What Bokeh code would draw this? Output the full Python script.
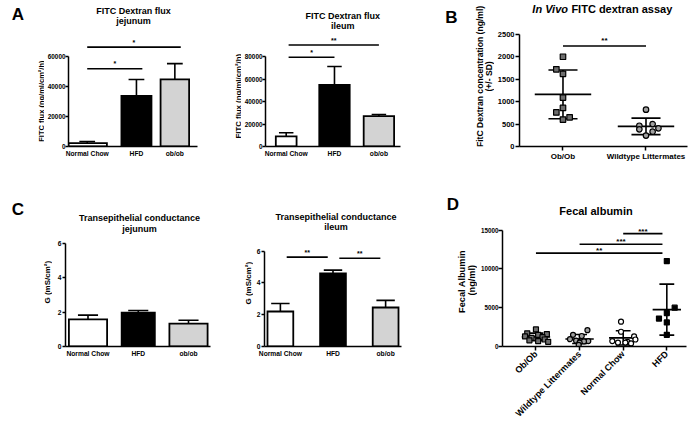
import math
from bokeh.plotting import figure
from bokeh.models import Range1d, FixedTicker
from bokeh.layouts import row, column
from bokeh.embed import file_html
from bokeh.resources import INLINE
from bokeh.core.properties import value

FONT = "Liberation Sans"

# ---------------- data ----------------
bar_groups = ["Normal Chow", "HFD", "ob/ob"]
bar_colors = ["white", "black", "#d3d3d3"]

flux_jej_mean = [2200, 33800, 44800]
flux_jej_sem = [1100, 11000, 10600]
flux_ile_mean = [9000, 54800, 27000]
flux_ile_sem = [3300, 16500, 1500]
cond_jej_mean = [1.58, 1.98, 1.33]
cond_jej_sem = [0.25, 0.12, 0.20]
cond_ile_mean = [2.2, 4.6, 2.45]
cond_ile_sem = [0.5, 0.2, 0.45]

flux_jej_ticks = [0, 20000, 40000, 60000]
flux_ile_ticks = [0, 20000, 40000, 60000, 80000]
cond_ticks = [0, 2, 4, 6]

# significance brackets: (group i, group j, height, label)
flux_jej_sig = [(0, 1, 52000, "*"), (0, 2, 66400, "*")]
flux_ile_sig = [(0, 1, 79600, "*"), (0, 2, 90500, "**")]
cond_ile_sig = [(0, 1, 5.62, "**"), (1, 2, 5.55, "**")]

vivo_groups = ["Ob/Ob", "Wildtype Littermates"]
vivo_obob = [2000, 1720, 1620, 1090, 860, 760, 600, 650]
vivo_wt = [820, 500, 463, 383, 405, 331, 243]
vivo_ticks = [0, 500, 1000, 1500, 2000, 2500]
vivo_sig = [(0, 1, 2240, "**")]

fecal_groups = ["Ob/Ob", "Wildtype Littermates", "Normal Chow", "HFD"]
fecal_obob = [2200, 1700, 1600, 1500, 1300, 1200, 1100, 900, 800, 700, 600]
fecal_wt = [2100, 1500, 1350, 950, 750, 700, 650, 500, 200]
fecal_nc = [3200, 1900, 1300, 900, 700, 600, 500, 500, 400]
fecal_hfd = [11000, 5000, 4300, 3600, 3100, 1500]
fecal_ticks = [0, 5000, 10000, 15000]
fecal_sig = [(2, 3, 14540, "***"), (1, 3, 13170, "***"), (0, 3, 12030, "**")]

# ---------------- layout only (positions / widths / offsets) ----------------
a1_pos, a1_w = [0, 1, 1.78], [0.8, 0.61, 0.58]
a2_pos, a2_w = [0, 1, 1.92], [0.43, 0.63, 0.63]
c1_pos, c1_w = [0, 1, 2], [0.76, 0.66, 0.76]
c2_pos, c2_w = [0, 1, 2], [0.49, 0.49, 0.49]
vivo_obob_jit = [0, -0.08, 0, 0, 0, -0.08, 0, 0.08]
vivo_wt_jit = [0, 0.08, -0.08, -0.08, 0.15, 0.08, 0]
fecal_obob_jit = [0.0, -0.2, 0.25, 0.05, -0.25, 0.15, -0.1, 0.2, -0.15, 0.05, 0.28]
fecal_wt_jit = [0.18, -0.15, 0.05, -0.22, -0.08, 0.2, 0.1, 0.0, -0.02]
fecal_nc_jit = [-0.05, -0.05, 0.25, 0.28, -0.25, 0.1, -0.12, 0.05, 0.18]
fecal_hfd_jit = [0, 0.18, 0, -0.18, 0, 0]

R1_TOP, R1_BOT, R1_FB = 0, 163, 148
R2_TOP, R2_BOT, R2_FB = 163, 425, 348


def tx(p, x, y, txt, fs, style="bold", align="center", angle=0.0):
    p.text(x=[x], y=[y], text=[txt], angle=angle, text_align=align,
           text_baseline="middle", text_font=value(FONT),
           text_font_size=f"{fs}px", text_font_style=style, text_color="black")


class Strip:
    """Narrow text-only figure holding a panel letter and a y-axis title."""
    def __init__(self, x0, x1, top, bot, fb):
        p = figure(width=x1 - x0, height=bot - top,
                   x_range=Range1d(x0, x1), y_range=Range1d(-fb, -top),
                   output_backend="svg", toolbar_location=None, title=None,
                   x_axis_location=None, y_axis_location=None,
                   min_border_left=0, min_border_right=0,
                   min_border_top=0, min_border_bottom=bot - fb)
        p.xgrid.visible = False
        p.ygrid.visible = False
        p.outline_line_color = None
        self.p = p

    def text(self, px, py, txt, fs, style="bold", angle=0.0):
        tx(self.p, px, -py, txt, fs, style=style, angle=angle)


class Panel:
    def __init__(self, fig_box, frame_box, xcal, ycal):
        FL, FT, FR, FB = fig_box
        L, T, R, B = frame_box
        (xp0, xv0), (xp1, xv1) = xcal
        (yp0, yv0), (yp1, yv1) = ycal
        self.sx = (xv1 - xv0) / (xp1 - xp0)
        self.sy = (yv1 - yv0) / (yp0 - yp1)
        self.xp0, self.xv0, self.yp0, self.yv0 = xp0, xv0, yp0, yv0
        p = figure(width=FR - FL, height=FB - FT,
                   x_range=Range1d(self.dx(L), self.dx(R)),
                   y_range=Range1d(self.dy(B), self.dy(T)),
                   output_backend="svg", toolbar_location=None, title=None,
                   min_border_left=L - FL, min_border_right=FR - R,
                   min_border_top=T - FT, min_border_bottom=FB - B)
        p.xgrid.visible = False
        p.ygrid.visible = False
        p.outline_line_color = None
        for ax in (p.xaxis[0], p.yaxis[0]):
            ax.axis_line_width = 1.5
            ax.axis_line_color = "black"
            ax.major_tick_line_width = 1.5
            ax.major_tick_line_color = "black"
            ax.major_tick_in = 0
            ax.major_tick_out = 3
            ax.minor_tick_line_color = None
            ax.major_label_text_font = FONT
            ax.major_label_text_font_style = "bold"
            ax.major_label_text_color = "black"
        self.p = p
        self.pos = None

    def dx(self, px):
        return self.xv0 + (px - self.xp0) * self.sx

    def dy(self, py):
        return self.yv0 + (self.yp0 - py) * self.sy

    def text(self, px, py, txt, fs, style="bold", align="center"):
        tx(self.p, self.dx(px), self.dy(py), txt, fs, style=style, align=align)

    def axes(self, yticks, cats, ytick_fs, xtick_fs, pos=None, ytick_out=3, ytick_standoff=0,
             xtick_standoff=3, xtick_out=0):
        self.pos = pos if pos is not None else list(range(len(cats)))
        ya, xa = self.p.yaxis[0], self.p.xaxis[0]
        ya.ticker = FixedTicker(ticks=yticks)
        ya.bounds = (yticks[0], yticks[-1])
        ya.major_label_text_font_size = f"{ytick_fs}px"
        ya.major_label_standoff = ytick_standoff
        ya.major_tick_out = ytick_out
        xa.ticker = FixedTicker(ticks=self.pos)
        xa.major_label_overrides = {x: c for x, c in zip(self.pos, cats)}
        xa.major_label_text_font_size = f"{xtick_fs}px"
        xa.major_label_standoff = xtick_standoff
        xa.major_tick_out = xtick_out

    def sigs(self, sig, fs, off_px, inset_l=0.0, inset_r=0.0):
        p = self.p
        for i, j, y, lab in sig:
            x0, x1 = self.pos[i] + inset_l, self.pos[j] - inset_r
            p.segment(x0=[x0], y0=[y], x1=[x1], y1=[y], line_color="black", line_width=1.6)
            p.text(x=[(x0 + x1) / 2], y=[y + (off_px - 0.575 * fs) * self.sy], text=[lab],
                   text_align="center", text_baseline="alphabetic",
                   text_font=value(FONT), text_font_size=f"{fs}px",
                   text_font_style="bold", text_color="black")

    def bars(self, means, sems, widths, cap_w):
        p = self.p
        xs = self.pos
        tops = [m + s for m, s in zip(means, sems)]
        p.vbar(x=xs, top=means, bottom=0, width=widths, fill_color=bar_colors,
               line_color="black", line_width=1.8, line_join="miter")
        p.segment(x0=xs, y0=means, x1=xs, y1=tops, line_color="black", line_width=1.6)
        p.segment(x0=[x - cap_w / 2 for x in xs], y0=tops, x1=[x + cap_w / 2 for x in xs],
                  y1=tops, line_color="black", line_width=1.6)

    def dots(self, gi, vals, jit, marker, fill, size, mean_w, cap_w):
        p = self.p
        n = len(vals)
        m = sum(vals) / n
        sd = math.sqrt(sum((v - m) ** 2 for v in vals) / (n - 1))
        p.segment(x0=[gi - mean_w / 2], y0=[m], x1=[gi + mean_w / 2], y1=[m], line_color="black", line_width=1.6)
        p.segment(x0=[gi], y0=[m - sd], x1=[gi], y1=[m + sd], line_color="black", line_width=1.6)
        p.segment(x0=[gi - cap_w / 2] * 2, y0=[m - sd, m + sd], x1=[gi + cap_w / 2] * 2,
                  y1=[m - sd, m + sd], line_color="black", line_width=1.6)
        p.scatter(x=[gi + j for j in jit], y=vals, marker=marker, size=size,
                  fill_color=fill, line_color="black", line_width=1.2)


# ================= Row 1 =================
sA = Strip(0, 44, R1_TOP, R1_BOT, R1_FB)
sA.text(17.5, 14, "A", 17)
sA.text(40.5, 102, "FITC flux (ng/ml/cm\u00b2/h)", 7.5, angle=math.pi / 2)

a1 = Panel((44, R1_TOP, 200, R1_BOT), (66, R1_TOP, 197, R1_FB), ((85, 0), (135, 1)), ((R1_FB, 0), (57, 60000)))
a1.axes(flux_jej_ticks, bar_groups, 6.4, 6.7, pos=a1_pos)
a1.bars(flux_jej_mean, flux_jej_sem, a1_w, 0.32)
a1.sigs(flux_jej_sig, 7, 9, 0.0, -0.12)
a1.text(132, 11, "FITC Dextran flux", 9)
a1.text(132, 20.5, "jejunum", 9)

sA2 = Strip(200, 241, R1_TOP, R1_BOT, R1_FB)
sA2.text(237.5, 97, "FITC flux (ng/ml/cm\u00b2/h)", 7.8, angle=math.pi / 2)

a2 = Panel((241, R1_TOP, 402, R1_BOT), (263, R1_TOP, 400, R1_FB), ((284, 0), (333, 1)), ((R1_FB, 0), (57, 80000)))
a2.axes(flux_ile_ticks, bar_groups, 6.4, 6.7, pos=a2_pos)
a2.bars(flux_ile_mean, flux_ile_sem, a2_w, 0.3)
a2.sigs(flux_ile_sig, 7, 9, 0.05, 0.0)
a2.text(341.5, 16, "FITC Dextran flux", 9)
a2.text(341.5, 25.5, "ileum", 9)

sB = Strip(402, 494, R1_TOP, R1_BOT, R1_FB)
sB.text(451, 17.5, "B", 17)
sB.text(479, 77, "FitC Dextran concentration (ng/ml)", 8.6, angle=math.pi / 2)
sB.text(488.5, 77, "(+/- SD)", 8.6, angle=math.pi / 2)

b = Panel((494, R1_TOP, 700, R1_BOT), (517, R1_TOP, 687, R1_FB), ((561, 0), (645, 1)), ((R1_FB, 0), (34.3, 2500)))
b.axes(vivo_ticks, vivo_groups, 7.5, 8, ytick_out=4, ytick_standoff=1, xtick_standoff=1, xtick_out=4)
b.dots(0, vivo_obob, vivo_obob_jit, "square", "#6e6e6e", 5.5, 0.68, 0.35)
b.dots(1, vivo_wt, vivo_wt_jit, "circle", "#a0a0a0", 5.5, 0.68, 0.35)
b.sigs(vivo_sig, 8, 10)
b.text(530, 9, "In Vivo", 11, style="bold italic", align="left")
b.text(569.5, 9, "FITC dextran assay", 11, align="left")

# ================= Row 2 =================
sC = Strip(0, 52, R2_TOP, R2_BOT, R2_FB)
sC.text(17.5, 209, "C", 17)
sC.text(47, 283, "G (mS/cm\u00b2)", 8, angle=math.pi / 2)

c1 = Panel((52, R2_TOP, 213, R2_BOT), (65, R2_TOP, 210, R2_FB), ((87.5, 0), (188, 2)), ((R2_FB, 0), (244, 6)))
c1.axes(cond_ticks, bar_groups, 6.7, 6.7, pos=c1_pos, ytick_standoff=1)
c1.bars(cond_jej_mean, cond_jej_sem, c1_w, 0.4)
c1.text(139, 218, "Transepithelial conductance", 9)
c1.text(139, 229.5, "jejunum", 9)

sC2 = Strip(213, 253, R2_TOP, R2_BOT, R2_FB)
sC2.text(248, 284, "G (mS/cm\u00b2)", 8, angle=math.pi / 2)

c2 = Panel((253, R2_TOP, 418, R2_BOT), (263, R2_TOP, 401, R2_FB), ((279, 0), (385, 2)), ((R2_FB, 0), (251.5, 6)))
c2.axes(cond_ticks, bar_groups, 6.7, 6.7, pos=c2_pos, ytick_standoff=1)
c2.bars(cond_ile_mean, cond_ile_sem, c2_w, 0.35)
c2.sigs(cond_ile_sig, 7, 9, 0.12, 0.1)
c2.text(335, 216.7, "Transepithelial conductance", 9)
c2.text(335, 227.5, "ileum", 9)

sD = Strip(418, 477, R2_TOP, R2_BOT, R2_FB)
sD.text(452.5, 204, "D", 17)
sD.text(461, 281, "Fecal  Albumin", 9.2, angle=math.pi / 2)
sD.text(471.5, 281, "(ng/ml)", 9.2, angle=math.pi / 2)

d = Panel((477, R2_TOP, 700, R2_BOT), (499, R2_TOP, 686, R2_FB), ((533, 0), (666, 3)), ((R2_FB, 0), (230.3, 15000)))
d.axes(fecal_ticks, fecal_groups, 6.3, 9, ytick_out=4, ytick_standoff=0, xtick_standoff=2, xtick_out=4)
d.p.xaxis[0].major_label_orientation = math.pi / 4
d.dots(0, fecal_obob, fecal_obob_jit, "square", "#6e6e6e", 5, 0.65, 0.34)
d.dots(1, fecal_wt, fecal_wt_jit, "circle", "#a0a0a0", 5, 0.65, 0.34)
d.dots(2, fecal_nc, fecal_nc_jit, "circle", "white", 5, 0.65, 0.34)
d.dots(3, fecal_hfd, fecal_hfd_jit, "square", "black", 5, 0.65, 0.34)
d.sigs(fecal_sig, 8, 7, 0.0, 0.1)
d.text(594, 211, "Fecal albumin", 11)

layout = column(
    row(sA.p, a1.p, sA2.p, a2.p, sB.p, b.p, spacing=0),
    row(sC.p, c1.p, sC2.p, c2.p, sD.p, d.p, spacing=0),
    spacing=0)
open("out.html", "w").write(file_html(layout, INLINE))
